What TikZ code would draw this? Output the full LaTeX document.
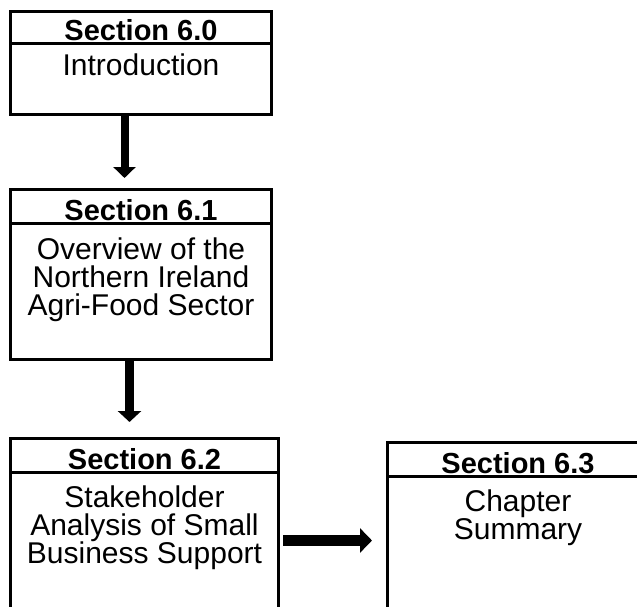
\documentclass[tikz,border=0pt]{standalone}
\usepackage{fontspec}
\setmainfont{Liberation Sans}
\usetikzlibrary{arrows.meta}
\begin{document}
\begin{tikzpicture}[x=1pt,y=-1pt,
  headbox/.style 2 args={draw, line width=3pt, inner sep=0pt, outer sep=0pt,
    minimum width=#1, minimum height=#2, text height=#2-6pt, text depth=0pt,
    anchor=north, font=\fontsize{29}{29}\selectfont\bfseries},
  bodybox/.style={draw, line width=3pt, inner sep=0pt, outer sep=0pt,
    anchor=north, font=\fontsize{30}{28}\selectfont},
  flow/.style n args={3}{line width=#1pt, -{Triangle[width=#2pt,length=#3pt]}}]
% body text block: height, width, gap above the first line, lines
\newcommand\bodytext[4]{\parbox[t][#1][t]{#2}{\centering\vspace*{#3}#4}}
\useasboundingbox (0,0) rectangle (637,607);
\clip (0,0) rectangle (637,607);

% Section 6.0
\node[headbox={261pt}{32pt}] (h0) at (141,12) {Section 6.0};
\node[bodybox] (b0) at (h0.south) {\bodytext{71pt}{261pt}{10pt}{Introduction}};

% Section 6.1
\node[headbox={261pt}{34pt}] (h1) at (141,189) {Section 6.1};
\node[bodybox] (b1) at (h1.south)
  {\bodytext{136pt}{261pt}{15pt}{Overview of the\\Northern Ireland\\Agri-Food Sector}};

% Section 6.2
\node[headbox={268pt}{34pt}] (h2) at (144.5,438) {Section 6.2};
\node[bodybox] (b2) at (h2.south)
  {\bodytext{190pt}{268pt}{14pt}{Stakeholder\\Analysis of Small\\Business Support}};

% Section 6.3
\node[headbox={262pt}{34pt}] (h3) at (518,442) {Section 6.3};
\node[bodybox] (b3) at (h3.south) {\bodytext{190pt}{262pt}{14pt}{Chapter\\Summary}};

% flow arrows
\coordinate (tip0) at (124.5,178);
\coordinate (tip1) at (129.5,422);
\coordinate (start2) at (283,540.5);
\coordinate (tip2) at (372,540.5);
\draw[flow={8}{22}{11}] (b0.south -| tip0) -- (tip0);
\draw[flow={9}{23}{11}] (b1.south -| tip1) -- (tip1);
\draw[flow={11}{24}{12}] (start2) -- (tip2);
\end{tikzpicture}
\end{document}
